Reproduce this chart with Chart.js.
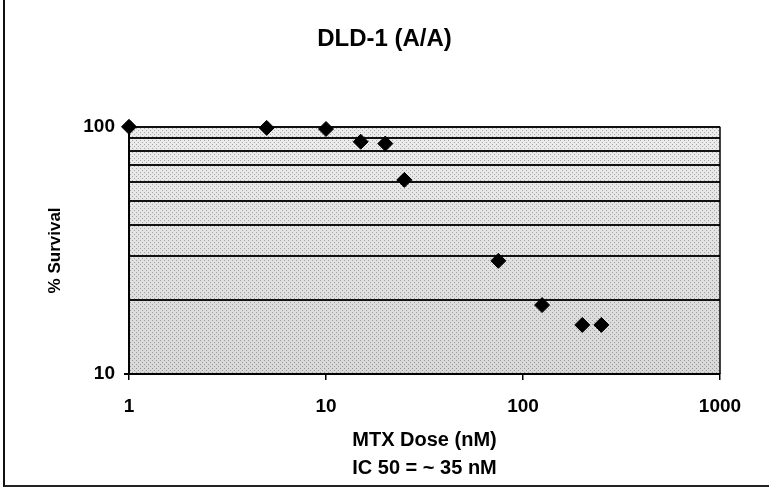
<!DOCTYPE html>
<html lang="en">
<head>
    <meta charset="UTF-8">
    <title>DLD-1 (A/A)</title>
    <style>
        body{
            margin: 0;
            background: #fff;
        }
        .wrap{
            position: relative;
            width: 769px;
            height: 500px;
        }
        .frame{
            position: absolute;
            left: 3px;
            top: 0;
            width: 766px;
            height: 487px;
            border-left: 2px solid #111;
            border-bottom: 2px solid #222;
            box-sizing: border-box;
            pointer-events: none;
        }
    </style>
</head>
<body>
    <div class="wrap">
        <canvas id="mychart" width="769" height="500"></canvas>
        <div class="frame"></div>
    </div>

    <script src="https://cdn.jsdelivr.net/npm/chart.js@4.4.0/dist/chart.umd.min.js"></script>
    <script>
        /* 데이터 */
        const dose = [1, 5, 10, 15, 20, 25, 75, 125, 200, 250];
        const survival = [100, 99, 98, 87, 85.5, 61, 28.7, 19, 15.8, 15.8];
        const xTicks = [1, 10, 100, 1000];
        const yTicks = [10, 20, 30, 40, 50, 60, 70, 80, 90, 100];
        const yLabels = [10, 100];

        const points = dose.map((d, i) => ({x: d, y: survival[i]}));

        // 점묘 배경 만들기
        function makePattern(ctx){
            const c = document.createElement('canvas');
            c.width = 4; c.height = 4;
            const p = c.getContext('2d');
            p.fillStyle = '#e4e4e4';
            p.fillRect(0, 0, 4, 4);
            p.fillStyle = '#555';
            p.fillRect(0, 0, 1, 1);
            p.fillRect(2, 2, 1, 1);
            return ctx.createPattern(c, 'repeat');
        }

        const plotBg = {
            id: 'plotBg',
            beforeDraw(chart){
                const {ctx, chartArea: a} = chart;
                ctx.save();
                const g = ctx.createLinearGradient(0, a.top, 0, a.bottom);
                g.addColorStop(0, '#f2f2f2');
                g.addColorStop(1, '#cfcfcf');
                ctx.fillStyle = g;
                ctx.fillRect(a.left, a.top, a.right - a.left, a.bottom - a.top);
                ctx.globalAlpha = 0.45;
                ctx.fillStyle = makePattern(ctx);
                ctx.fillRect(a.left, a.top, a.right - a.left, a.bottom - a.top);
                ctx.restore();
            },
            beforeDatasetsDraw(chart){
                // 오른쪽 테두리
                const {ctx, chartArea: a} = chart;
                ctx.save();
                ctx.strokeStyle = '#000';
                ctx.lineWidth = 1.5;
                ctx.beginPath();
                ctx.moveTo(a.right, a.top);
                ctx.lineTo(a.right, a.bottom);
                ctx.stroke();
                ctx.restore();
            }
        };

        const font = 'Liberation Sans, Arial, sans-serif';

        new Chart(document.getElementById('mychart'), {
            type: 'scatter',
            data: {
                datasets: [{
                    data: points,
                    pointStyle: 'rectRot',
                    pointRadius: 7.5,
                    pointHoverRadius: 7.5,
                    backgroundColor: '#000',
                    borderColor: '#000',
                    clip: false
                }]
            },
            options: {
                responsive: false,
                animation: false,
                layout: {padding: {left: 0, right: 0, top: 0, bottom: 0}},
                plugins: {
                    legend: {display: false},
                    tooltip: {enabled: false},
                    title: {
                        display: true,
                        text: 'DLD-1 (A/A)',
                        color: '#000',
                        font: {family: font, size: 24, weight: 'bold'},
                        padding: {top: 25, bottom: 73}
                    }
                },
                scales: {
                    x: {
                        type: 'logarithmic',
                        min: 1,
                        max: 1000,
                        afterBuildTicks: s => { s.ticks = xTicks.map(v => ({value: v})); },
                        afterFit: s => { s.height = 126; },
                        border: {display: true, color: '#000', width: 2},
                        grid: {drawOnChartArea: false, drawTicks: true, tickLength: 6, color: '#000', lineWidth: 1.5},
                        ticks: {
                            color: '#000',
                            padding: 15,
                            maxRotation: 0,
                            font: {family: font, size: 19, weight: 'bold'},
                            callback: v => String(v)
                        },
                        title: {
                            display: true,
                            text: ['MTX Dose (nM)', 'IC 50 = ~ 35 nM'],
                            color: '#000',
                            font: {family: font, size: 20, weight: 'bold', lineHeight: '28px'},
                            padding: {top: 0, bottom: 18}
                        }
                    },
                    y: {
                        type: 'logarithmic',
                        min: 10,
                        max: 100,
                        afterBuildTicks: s => { s.ticks = yTicks.map(v => ({value: v})); },
                        afterFit: s => { s.width = 129; },
                        border: {display: true, color: '#000', width: 2},
                        grid: {
                            drawTicks: true,
                            tickLength: 5,
                            tickColor: c => yLabels.includes(c.tick.value) ? '#000' : 'rgba(0,0,0,0)',
                            color: '#111',
                            lineWidth: 2
                        },
                        ticks: {
                            color: '#000',
                            padding: 9,
                            font: {family: font, size: 19, weight: 'bold'},
                            callback: v => yLabels.includes(v) ? String(v) : ''
                        },
                        title: {
                            display: true,
                            text: '% Survival',
                            color: '#000',
                            font: {family: font, size: 17, weight: 'bold'},
                            padding: {top: 45, bottom: 0}
                        }
                    },
                    // 오른쪽 여백용 빈 축
                    yRight: {
                        type: 'logarithmic',
                        position: 'right',
                        min: 10,
                        max: 100,
                        afterFit: s => { s.width = 49; },
                        border: {display: false},
                        grid: {display: false},
                        ticks: {display: false}
                    }
                }
            },
            plugins: [plotBg]
        });
    </script>
</body>
</html>
